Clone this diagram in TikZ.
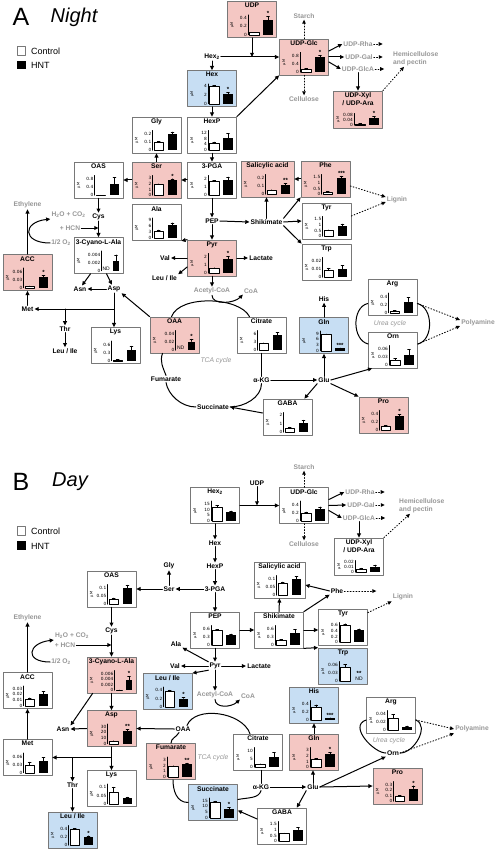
\documentclass[tikz,border=0pt]{standalone}
\usepackage{fontspec}
\setmainfont{Liberation Sans}
\newfontfamily\tickfam{DejaVu Sans}
\usetikzlibrary{arrows.meta}

\definecolor{pinkfill}{RGB}{244,199,195}
\definecolor{bluefill}{RGB}{199,222,243}
\definecolor{boxline}{RGB}{120,120,120}
\definecolor{greytxt}{RGB}{150,150,150}

\newcommand{\chartH}{20}
% box with its title
\newcommand{\metab}[5][]{%
  \node[metbox,#4,#1] (#2) at (#3) {};
  \node[boxtitle] (#2-t) at ([yshift=-1.5pt]#2.north) {#5};}
% small bar chart: [axis offset]{box}{max}{ticks}{ctrl}{err}{hnt}{err}{sig}
\newcommand{\bars}[9][29]{%
  \begin{scope}[shift={(#2.south east)}]
    \pgfmathsetmacro\barW{(#1-6)*0.42}
    \pgfmathsetmacro\barCl{-#1+1.5}
    \pgfmathsetmacro\barCr{\barCl+\barW}
    \pgfmathsetmacro\barCx{\barCl+0.5*\barW}
    \pgfmathsetmacro\barHl{-4-\barW}
    \pgfmathsetmacro\barHx{-4-0.5*\barW}
    \draw[axisline] (-#1,-3) -- (-#1,{-3-\chartH});
    \foreach \tk [count=\ti] in {#4} \node[tklab] (#2-k\ti) at ({-#1-0.5},{-3-\tk/#3*\chartH}) {\tk};
    \ifdim #5pt<0pt
      \node[ndlab] (#2-ndc) at (\barCx,-3) {ND};
    \else
      \pgfmathsetmacro\barCh{#5/#3*\chartH}
      \pgfmathsetmacro\barCe{(#5+#6)/#3*\chartH}
      \draw[ctrlbar] (\barCl,-3) rectangle (\barCr,{-3-\barCh});
      \draw[errbar] (\barCx,{-3-\barCh}) -- (\barCx,{-3-\barCe}) ({\barCx-1.5},{-3-\barCe}) -- ({\barCx+1.5},{-3-\barCe});
    \fi
    \ifdim #7pt<0pt
      \node[ndlab] (#2-ndh) at (\barHx,-3) {ND};
      \node[siglab] (#2-sig) at (\barHx,-8.5) {#9};
    \else
      \pgfmathsetmacro\barHh{#7/#3*\chartH}
      \pgfmathsetmacro\barHe{(#7+#8)/#3*\chartH}
      \fill[hntbar] (\barHl,-3) rectangle (-4,{-3-\barHh});
      \draw[errbar] (\barHx,{-3-\barHh}) -- (\barHx,{-3-\barHe}) ({\barHx-1.5},{-3-\barHe}) -- ({\barHx+1.5},{-3-\barHe});
      \node[siglab] (#2-sig) at (\barHx,{-3.3-\barHe}) {#9};
    \fi
  \end{scope}
  \path (#2.south west) ++(5,{-3-0.5*\chartH}) node[unitlab] (#2-u) {µM};}

\tikzset{
  metbox/.style={draw=boxline,line width=0.7pt,minimum width=49pt,minimum height=36pt,inner sep=0pt},
  pinkbox/.style={fill=pinkfill},
  bluebox/.style={fill=bluefill},
  whitebox/.style={fill=white},
  boxtitle/.style={font=\fontsize{6.7}{7.6}\selectfont\bfseries,anchor=north,inner sep=0.5pt,align=center},
  met/.style={font=\fontsize{6.7}{8}\selectfont\bfseries,inner sep=1pt},
  sidelab/.style={met,text=greytxt},
  cyc/.style={font=\fontsize{6.8}{8}\selectfont\itshape,text=greytxt,inner sep=1pt},
  tklab/.style={font=\tickfam\fontsize{4.3}{5}\selectfont,anchor=east,inner sep=0.4pt},
  unitlab/.style={font=\tickfam\fontsize{3.6}{4}\selectfont,rotate=90,inner sep=0pt},
  ndlab/.style={font=\fontsize{5}{6}\selectfont,anchor=south,inner sep=0.4pt},
  siglab/.style={font=\fontsize{6}{6}\selectfont\bfseries,anchor=south,inner sep=0.2pt},
  axisline/.style={line width=0.4pt},
  ctrlbar/.style={draw=black,fill=white,line width=0.5pt},
  hntbar/.style={fill=black},
  errbar/.style={line width=0.4pt},
  arr/.style={-{Triangle[length=4.2pt,width=3.8pt]},line width=1pt},
  dotarr/.style={-{Triangle[length=4pt,width=3.6pt]},line width=0.9pt,dotted},
  conn/.style={line width=1pt},
  keytxt/.style={anchor=west,font=\fontsize{9}{10}\selectfont,inner sep=0pt},
}

\begin{document}
\begin{tikzpicture}[line cap=round,line join=round,x=1pt,y=-1pt]
\useasboundingbox (0,0) rectangle (497,850);

%%% A: Night
\node[font=\fontsize{25}{30}\selectfont] (aLetter) at (21,17) {A};
\node[font=\fontsize{20}{24}\selectfont\itshape] (aTitle) at (74,17) {Night};
\node[draw=boxline,fill=white,minimum size=8.5pt,inner sep=0pt,line width=0.6pt] (aKeyC) at (21.5,51) {};
\node[keytxt] (aKeyCt) at (31,51.5) {Control};
\node[fill=black,minimum size=8.5pt,inner sep=0pt] (aKeyH) at (21.5,65) {};
\node[keytxt] (aKeyHt) at (31,65.5) {HNT};

\metab{aUDP}{252,19.5}{pinkbox}{UDP}
\bars{aUDP}{0.46}{0,0.2,0.4}{0.05}{0.01}{0.33}{0.09}{*}
\metab{aUDPGlc}{304,57}{pinkbox}{UDP-Glc}
\bars{aUDPGlc}{0.95}{0,0.4,0.8}{0.15}{0.03}{0.72}{0.08}{*}
\metab[minimum height=37pt]{aXyl}{358,109.5}{pinkbox}{UDP-Xyl\\/ UDP-Ara}
{\renewcommand{\chartH}{12}\bars{aXyl}{0.09}{0,0.04,0.08}{0.01}{0.003}{0.055}{0.01}{*}}
\metab{aHex}{212,88.5}{bluebox}{Hex}
\bars{aHex}{4.4}{0,2,4}{3.8}{0.2}{2.1}{0.4}{*}
\metab{aHexP}{212,135}{whitebox}{HexP}
\bars{aHexP}{13.5}{0,4,8,12}{5}{0.6}{8.5}{2.8}{}
\metab{aGly}{156.5,135}{whitebox}{Gly}
\bars{aGly}{0.25}{0,0.1,0.2}{0.1}{0.01}{0.2}{0.03}{}
\metab{aOAS}{98.5,180}{whitebox}{OAS}
\bars{aOAS}{0.95}{0,0.4,0.8}{0.01}{0}{0.55}{0.3}{}
\metab{aSer}{156.5,180}{pinkbox}{Ser}
\bars{aSer}{3.5}{0,1,2,3}{1.9}{0.1}{2.6}{0.3}{*}
\metab{aPGA}{212,180}{whitebox}{3-PGA}
\bars{aPGA}{2.4}{0,1,2}{1.7}{0.1}{1.8}{0.4}{}
\metab[minimum width=53pt]{aSal}{267.5,179}{pinkbox}{Salicylic acid}
\bars{aSal}{0.24}{0,0.1,0.2}{0.05}{0.005}{0.11}{0.02}{**}
\metab{aPhe}{325.5,179}{pinkbox}{Phe}
\bars{aPhe}{1.7}{0,0.5,1,1.5}{0.2}{0.03}{1.4}{0.15}{***}
\metab{aTyr}{326.5,221}{whitebox}{Tyr}
\bars{aTyr}{1.7}{0,0.5,1,1.5}{0.5}{0.05}{0.9}{0.15}{}
\metab{aTrp}{326.5,262}{whitebox}{Trp}
\bars{aTrp}{0.024}{0,0.01,0.02}{0.008}{0.003}{0.01}{0.004}{}
\metab{aAla}{156.5,222.5}{whitebox}{Ala}
\bars{aAla}{10}{0,3,6,9}{3.5}{0.4}{6.5}{1}{}
\metab{aPyr}{212,258}{pinkbox}{Pyr}
\bars{aPyr}{2.5}{0,1,2}{0.6}{0.1}{1.8}{0.3}{*}
\metab{aCyano}{98.5,255.5}{whitebox}{3-Cyano-L-Ala}
\bars[22]{aCyano}{0.005}{0,0.002,0.004}{-1}{0}{0.0025}{0.0015}{}
\metab{aACC}{27.5,272.5}{pinkbox}{ACC}
\bars{aACC}{0.075}{0,0.03,0.06}{0.005}{0.002}{0.04}{0.006}{*}
\metab{aLys}{115.5,345.5}{whitebox}{Lys}
\bars{aLys}{0.75}{0,0.3,0.6}{0.04}{0.01}{0.4}{0.15}{}
\metab{aOAA}{174.5,335}{pinkbox}{OAA}
\bars[24]{aOAA}{0.05}{0,0.02,0.04}{-1}{0}{0.022}{0.006}{*}
\metab{aCit}{261.5,335}{whitebox}{Citrate}
\bars{aCit}{7.5}{0,3,6}{2.5}{0.3}{5.8}{1}{}
\metab{aGln}{324,335.5}{bluebox}{Gln}
\bars{aGln}{10.5}{0,3,6,9}{8.5}{0.3}{1.3}{0.2}{***}
\metab{aArg}{392.5,297.5}{whitebox}{Arg}
\bars{aArg}{0.5}{0,0.2,0.4}{0.05}{0.01}{0.28}{0.1}{}
\metab{aOrn}{393,350}{whitebox}{Orn}
\bars{aOrn}{0.075}{0,0.03,0.06}{0.02}{0.006}{0.04}{0.02}{}
\metab{aGABA}{287.5,417}{whitebox}{GABA}
\bars{aGABA}{2.3}{0,1,2}{0.5}{0.1}{1.1}{0.3}{}
\metab{aPro}{383.5,415}{pinkbox}{Pro}
\bars{aPro}{0.5}{0,0.2,0.4}{0.1}{0.02}{0.35}{0.05}{*}

\node[met] (aHex2) at (212,57) {Hex\textsubscript{2}};
\node[sidelab] (aStarch) at (304,16) {Starch};
\node[sidelab] (aCellulose) at (304,99) {Cellulose};
\node[sidelab] (aRha) at (358,44) {UDP-Rha};
\node[sidelab] (aGal) at (359,57) {UDP-Gal};
\node[sidelab] (aGlcA) at (358,69) {UDP-GlcA};
\node[sidelab,align=left,anchor=west] (aHemi) at (392,58.5) {Hemicellulose\\and pectin};
\node[sidelab] (aLignin) at (397,200) {Lignin};
\node[met] (aPEP) at (212,221) {PEP};
\node[met] (aShik) at (266.5,222) {Shikimate};
\node[met] (aVal) at (165,258) {Val};
\node[met] (aLeuA) at (164.5,278) {Leu / Ile};
\node[met] (aLact) at (261,258) {Lactate};
\node[sidelab] (aAcCoA) at (212,291) {Acetyl-CoA};
\node[sidelab] (aCoA) at (251,291) {CoA};
\node[sidelab] (aEthylene) at (27.5,205) {Ethylene};
\node[sidelab] (aH2O) at (68.5,215) {H\textsubscript{2}O + CO\textsubscript{2}};
\node[met] (aCys) at (98.5,217) {Cys};
\node[sidelab] (aHCN) at (70,228) {+ HCN};
\node[sidelab] (aO2) at (61,243) {1/2 O\textsubscript{2}};
\node[met] (aAsn) at (80,289) {Asn};
\node[met] (aAsp) at (114,289) {Asp};
\node[met] (aMet) at (27.5,309) {Met};
\node[met] (aThr) at (65,329) {Thr};
\node[met] (aLeuB) at (65,351) {Leu / Ile};
\node[cyc] (aTCA) at (216,361) {TCA cycle};
\node[met] (aFum) at (166,379) {Fumarate};
\node[met] (aSuc) at (213,407) {Succinate};
\node[met] (aAKG) at (261.5,380) {α-KG};
\node[met] (aGlu) at (324,380) {Glu};
\node[met] (aHis) at (324,299) {His};
\node[cyc] (aUrea) at (390,324) {Urea cycle};
\node[sidelab] (aPoly) at (478,323) {Polyamine};

% sugars
\draw[arr] (aHex2.south) -- (aHex.north);
\draw[arr] (aHex2.east) -- (aUDPGlc.west);
\draw[arr] (aUDP.south) -- (aUDP.south |- aHex2.east);
\draw[arr] (aHexP.north east) -- (aUDPGlc.south west);
\draw[dotarr] (aUDPGlc.north) -- (aStarch.south);
\draw[dotarr] (aUDPGlc.south) -- (aCellulose.north);
\draw[arr] ([yshift=6pt]aUDPGlc.east) -- (aRha.west);
\draw[arr] (aUDPGlc.east) -- (aGal.west);
\draw[arr] ([yshift=-5pt]aUDPGlc.east) -- (aGlcA.west);
\foreach \nd in {aRha,aGal,aGlcA} \draw[dotarr] (\nd.east) -- ++(9,0);
\draw[arr] (aGlcA.south) -- (aXyl.north);
\draw[dotarr] (aXyl.north east) -- ([xshift=12pt]aHemi.south west);
\draw[arr] (aHex.south) -- (aHexP.north);
\draw[arr] (aHexP.south) -- (aPGA.north);
\draw[arr] (aPGA.west) -- (aSer.east);
\draw[arr] (aSer.north) -- (aGly.south);
\draw[arr] (aSer.west) -- (aOAS.east);
\draw[arr] (aOAS.south) -- (aCys.north);
\draw[arr] (aPGA.south) -- (aPEP.north);
\draw[arr] (aPEP.east) -- (aShik.west);
\draw[arr] (aShik.north) -- (aShik.north |- aSal.south);
\draw[arr] (aShik.north east) -- (aPhe.south west);
\draw[arr] (aPhe.west) -- (aSal.east);
\draw[arr] (aShik.east) -- (aTyr.west);
\draw[arr] (aShik.south east) -- (aTrp.north west);
\draw[dotarr] ([yshift=-7pt]aPhe.east) -- ([yshift=3pt]aLignin.west);
\draw[dotarr] ([yshift=5pt]aTyr.east) -- ([yshift=-2pt]aLignin.west);
% pyruvate
\draw[arr] (aPEP.south) -- (aPyr.north);
\draw[arr] (aPyr.north west) -- (aAla.south east);
\draw[arr] (aPyr.west) -- (aVal.east);
\draw[arr] ([yshift=-9pt]aPyr.west) -- (aLeuA.north east);
\draw[arr] (aPyr.east) -- (aLact.west);
\draw[arr] (aPyr.south) -- (aAcCoA.north);
\draw[arr] (aAcCoA.south) .. controls +(0,10) and +(-9,9) .. (aCoA.south west);
% cysteine, aspartate
\draw[arr] (aHCN.east) -- (aHCN.east -| aCys.south);
\draw[arr] (aCys.south) -- (aCyano.north);
\draw[arr] (aO2.west) .. controls +(-28,0) and +(-28,3) .. (aH2O.south west);
\draw[arr] (aACC.north) -- (aEthylene.south);
\draw[arr] (aMet.north) -- (aACC.south);
\draw[arr] ([xshift=-8pt]aCyano.south) -- ([xshift=2pt]aAsn.north);
\draw[arr] ([xshift=8pt]aCyano.south) -- ([xshift=-2pt]aAsp.north);
\draw[arr] (aAsp.west) -- (aAsn.east);
\draw[arr] (aAsp.south) -- (aAsp.south |- aLys.north);
\draw[arr] (aAsp.south |- aMet.east) -- (aMet.east);
\draw[arr] (aThr |- aMet.east) -- (aThr.north);
\draw[arr] (aThr.south) -- (aLeuB.north);
\draw[arr] (aOAA.north west) -- (aAsp.south east);
% TCA
\draw[conn] ([xshift=-3pt]aOAA.north) .. controls +(8,-22) and +(-10,-20) .. ([xshift=-12pt]aCit.north);
\draw[conn] (aCit.south) -- (aAKG.north);
\draw[conn] (aAKG.south) .. controls +(0,14) and +(14,0) .. (aSuc.east);
\draw[conn] (aSuc.west) .. controls +(-15,0) and +(2,12) .. (aFum.south);
\draw[conn] (aFum.north) .. controls +(-3,-8) and +(-3,8) .. ([xshift=-12pt]aOAA.south);
\draw[arr] ([yshift=4pt]aGABA.west) -- (aSuc.east);
\draw[arr] (aAKG.east) -- (aGlu.west);
\draw[arr] (aGlu.north) -- (aGln.south);
\draw[arr] (aGln.north) -- (aHis.south);
\draw[arr] (aGlu.south west) -- ([xshift=-8pt]aGABA.north east);
\draw[arr] (aGlu.south east) -- (aPro.north west);
\draw[arr] (aGlu.east) -- ([xshift=4pt]aOrn.south west);
% urea
\draw[conn] ([yshift=-6pt]aArg.west) .. controls +(-16,4) and +(-16,-4) .. ([yshift=6pt]aOrn.west);
\draw[conn] ([yshift=6pt]aOrn.east) .. controls +(16,-4) and +(16,4) .. ([yshift=-6pt]aArg.east);
\draw[dotarr] ([yshift=-6pt]aArg.east) -- ([yshift=3pt]aPoly.west);
\draw[dotarr] ([yshift=6pt]aOrn.east) -- ([yshift=-3pt]aPoly.west);

%%% B: Day
\node[font=\fontsize{25}{30}\selectfont] (bLetter) at (21,482) {B};
\node[font=\fontsize{20}{24}\selectfont\itshape] (bTitle) at (70,482) {Day};
\node[draw=boxline,fill=white,minimum size=8.5pt,inner sep=0pt,line width=0.6pt] (bKeyC) at (21.5,531) {};
\node[keytxt] (bKeyCt) at (31,531.5) {Control};
\node[fill=black,minimum size=8.5pt,inner sep=0pt] (bKeyH) at (21.5,545.5) {};
\node[keytxt] (bKeyHt) at (31,546) {HNT};

\metab{bHex2}{215,505.5}{whitebox}{Hex\textsubscript{2}}
\bars{bHex2}{18}{0,5,10,15}{12.4}{1.5}{8.4}{0.4}{}
\metab{bUDPGlc}{304,505.5}{whitebox}{UDP-Glc}
\bars{bUDPGlc}{0.5}{0,0.2,0.4}{0.2}{0.02}{0.3}{0.05}{}
\metab[minimum height=37pt]{bXyl}{359,556.5}{whitebox}{UDP-Xyl\\/ UDP-Ara}
{\renewcommand{\chartH}{12}\bars{bXyl}{0.023}{0,0.01,0.02}{0.005}{0.003}{0.011}{0.003}{}}
\metab{bOAS}{111.5,589}{whitebox}{OAS}
\bars{bOAS}{0.12}{0,0.05,0.1}{0.028}{0.01}{0.1}{0.015}{}
\metab[minimum width=51pt]{bSal}{279.5,580}{whitebox}{Salicylic acid}
\bars{bSal}{0.12}{0,0.05,0.1}{0.075}{0.005}{0.1}{0.012}{}
\metab{bPEP}{215,630}{whitebox}{PEP}
\bars{bPEP}{0.72}{0,0.3,0.6}{0.53}{0.04}{0.37}{0.04}{}
\metab{bShik}{279,630}{whitebox}{Shikimate}
\bars{bShik}{0.72}{0,0.3,0.6}{0.2}{0.02}{0.45}{0.13}{}
\metab{bTyr}{343,627}{whitebox}{Tyr}
\bars{bTyr}{0.7}{0,0.2,0.4,0.6}{0.6}{0.05}{0.42}{0.05}{}
\metab{bTrp}{343,666}{bluebox}{Trp}
\bars{bTrp}{0.072}{0,0.03,0.06}{0.05}{0.01}{-1}{0}{**}
\metab{bLeuA}{167.5,691.5}{bluebox}{Leu / Ile}
\bars{bLeuA}{0.48}{0,0.2,0.4}{0.38}{0.02}{0.2}{0.03}{*}
\metab{bCyano}{111.5,675}{pinkbox}{3-Cyano-L-Ala}
\bars[22]{bCyano}{0.0072}{0,0.002,0.004,0.006}{0.0002}{0}{0.0038}{0.0012}{*}
\metab{bACC}{27.5,690.5}{whitebox}{ACC}
\bars{bACC}{0.035}{0,0.01,0.02,0.03}{0.011}{0.003}{0.02}{0.005}{}
\metab{bAsp}{111.5,728.5}{pinkbox}{Asp}
\bars{bAsp}{35}{0,10,20,30}{5}{0.5}{22}{3}{**}
\metab{bMet}{27.5,757.5}{whitebox}{Met}
\bars{bMet}{0.075}{0,0.03,0.06}{0.03}{0.01}{0.045}{0.012}{}
\metab{bLys}{111.5,788.5}{whitebox}{Lys}
\bars{bLys}{0.12}{0,0.05,0.1}{0.07}{0.03}{0.035}{0.005}{}
\metab{bLeuB}{72.5,830}{bluebox}{Leu / Ile}
\bars{bLeuB}{0.48}{0,0.2,0.4}{0.38}{0.02}{0.2}{0.03}{*}
\metab{bFum}{171,761.5}{pinkbox}{Fumarate}
\bars{bFum}{3.5}{0,1,2,3}{1.9}{0.05}{2.3}{0.1}{**}
\metab{bSuc}{213,802.5}{bluebox}{Succinate}
\bars{bSuc}{17.5}{0,5,10,15}{14}{0.6}{8}{1}{*}
\metab{bCit}{258,752}{whitebox}{Citrate}
\bars{bCit}{12}{0,5,10}{1.6}{0.5}{6}{3}{}
\metab{bHis}{314,705}{bluebox}{His}
\bars{bHis}{0.48}{0,0.2,0.4}{0.32}{0.05}{0.05}{0.01}{***}
\metab{bGln}{314,752}{pinkbox}{Gln}
\bars{bGln}{3.5}{0,1,2,3}{1.5}{0.05}{2.3}{0.3}{*}
\metab{bArg}{391,715}{whitebox}{Arg}
\bars{bArg}{0.05}{0,0.02,0.04}{0.03}{0.01}{0.008}{0.003}{}
\metab{bPro}{397.5,786}{pinkbox}{Pro}
\bars{bPro}{0.36}{0,0.1,0.2,0.3}{0.1}{0.01}{0.23}{0.05}{*}
\metab{bGABA}{282,826}{whitebox}{GABA}
\bars{bGABA}{1.7}{0,0.5,1,1.5}{0.65}{0.05}{1}{0.2}{}

\node[met] (bUDP) at (257,483) {UDP};
\node[sidelab] (bStarch) at (304,467) {Starch};
\node[sidelab] (bCellulose) at (304,544) {Cellulose};
\node[sidelab] (bRha) at (360,492) {UDP-Rha};
\node[sidelab] (bGal) at (361,505) {UDP-Gal};
\node[sidelab] (bGlcA) at (359,518) {UDP-GlcA};
\node[sidelab,align=left,anchor=west] (bHemi) at (398,505.5) {Hemicellulose\\and pectin};
\node[met] (bHex) at (215,543) {Hex};
\node[met] (bHexP) at (215,566) {HexP};
\node[met] (bPGA) at (215,589) {3-PGA};
\node[met] (bSer) at (169,589) {Ser};
\node[met] (bGly) at (169,566) {Gly};
\node[met] (bPhe) at (337,591) {Phe};
\node[sidelab] (bLignin) at (403,597) {Lignin};
\node[met] (bAla) at (176,644) {Ala};
\node[met] (bVal) at (175,666) {Val};
\node[met] (bPyr) at (215,666) {Pyr};
\node[met] (bLact) at (259,666) {Lactate};
\node[sidelab] (bAcCoA) at (215,695) {Acetyl-CoA};
\node[sidelab] (bCoA) at (248,696) {CoA};
\node[sidelab] (bEthylene) at (27.5,618) {Ethylene};
\node[met] (bCys) at (111.5,631) {Cys};
\node[sidelab] (bH2O) at (72,636) {H\textsubscript{2}O + CO\textsubscript{2}};
\node[sidelab] (bHCN) at (65,645) {+ HCN};
\node[sidelab] (bO2) at (61,662) {1/2 O\textsubscript{2}};
\node[met] (bAsn) at (63,729) {Asn};
\node[met] (bThr) at (72.5,785) {Thr};
\node[met] (bOAA) at (183,729) {OAA};
\node[cyc] (bTCA) at (213,758) {TCA cycle};
\node[met] (bAKG) at (261,787) {α-KG};
\node[met] (bGlu) at (313,787) {Glu};
\node[cyc] (bUrea) at (389,741) {Urea cycle};
\node[met] (bOrn) at (393,753) {Orn};
\node[sidelab] (bPoly) at (472,729) {Polyamine};

% sugars
\draw[arr] (bHex2.south) -- (bHex.north);
\draw[arr] (bHex2.east) -- (bUDPGlc.west);
\draw[arr] (bUDP.south) -- (bUDP.south |- bHex2.east);
\draw[dotarr] (bUDPGlc.north) -- (bStarch.south);
\draw[dotarr] (bUDPGlc.south) -- (bCellulose.north);
\draw[arr] ([yshift=6pt]bUDPGlc.east) -- (bRha.west);
\draw[arr] (bUDPGlc.east) -- (bGal.west);
\draw[arr] ([yshift=-5pt]bUDPGlc.east) -- (bGlcA.west);
\foreach \nd in {bRha,bGal,bGlcA} \draw[dotarr] (\nd.east) -- ++(9,0);
\draw[arr] (bGlcA.south) -- (bXyl.north);
\draw[dotarr] (bXyl.north east) -- ([xshift=12pt]bHemi.south west);
\draw[arr] (bHex.south) -- (bHexP.north);
\draw[arr] (bHexP.south) -- (bPGA.north);
\draw[arr] (bPGA.west) -- (bSer.east);
\draw[arr] (bSer.north) -- (bGly.south);
\draw[arr] (bSer.west) -- (bOAS.east);
\draw[arr] (bOAS.south) -- (bCys.north);
\draw[arr] (bPGA.south) -- (bPEP.north);
\draw[arr] (bPEP.east) -- (bShik.west);
\draw[arr] (bShik.north) -- (bSal.south);
\draw[arr] (bShik.north east) -- (bPhe.south west);
\draw[arr] (bPhe.west) -- ([yshift=-5pt]bSal.east);
\draw[dotarr] (bPhe.east) -- ++(32,0);
\draw[dotarr] ([yshift=-4pt]bTyr.north east) -- (bLignin.south west);
\draw[arr] (bShik.east) -- (bShik.east -| bTyr.west);
\draw[arr] (bShik.south east) -- (bTrp.north west);
% pyruvate
\draw[arr] (bPEP.south) -- (bPyr.north);
\draw[arr] (bPyr.north west) -- (bAla.south east);
\draw[arr] (bPyr.west) -- (bVal.east);
\draw[arr] (bPyr.south west) -- (bLeuA.north east);
\draw[arr] (bPyr.east) -- (bLact.west);
\draw[arr] (bPyr.south) -- (bAcCoA.north);
\draw[arr] (bAcCoA.south) .. controls +(0,9) and +(-9,8) .. (bCoA.south west);
% cysteine, aspartate
\draw[arr] (bHCN.east) -- (bHCN.east -| bCys.south);
\draw[arr] (bCys.south) -- (bCyano.north);
\draw[arr] (bO2.west) .. controls +(-26,0) and +(-26,3) .. (bH2O.south west);
\draw[arr] (bACC.north) -- (bEthylene.south);
\draw[arr] (bMet.north) -- (bACC.south);
\draw[arr] (bCyano.south) -- (bAsp.north);
\draw[arr] ([xshift=6pt]bCyano.south west) -- (bAsn.north east);
\draw[arr] (bAsp.west) -- (bAsn.east);
\draw[arr] (bOAA.west) -- (bAsp.east);
\draw[arr] (bAsp.south) -- (bLys.north);
\draw[arr] (bAsp.south |- bMet.east) -- (bMet.east);
\draw[arr] (bThr |- bMet.east) -- (bThr.north);
\draw[arr] (bThr.south) -- (bThr.south |- bLeuB.north);
% TCA
\draw[conn] ([xshift=4pt]bOAA.north) .. controls +(8,-20) and +(-8,-22) .. ([xshift=-8pt]bCit.north);
\draw[conn] ([xshift=3pt]bCit.south) -- (bAKG.north);
\draw[conn] (bAKG.south) .. controls +(-2,8) and +(10,-2) .. ([yshift=3pt]bSuc.east);
\draw[conn] (bSuc.west) .. controls +(-12,0) and +(0,10) .. ([xshift=2pt]bFum.south);
\draw[conn] (bFum.north) .. controls +(0,-5) and +(-3,5) .. ([xshift=-4pt]bOAA.south);
\draw[arr] ([yshift=7pt]bGABA.west) -- ([yshift=-8pt]bSuc.east);
\draw[arr] (bAKG.east) -- (bGlu.west);
\draw[arr] (bGlu.north) -- (bGlu.north |- bGln.south);
\draw[arr] (bGln.north) -- (bHis.south);
\draw[arr] (bGlu.south west) -- ([xshift=-10pt]bGABA.north east);
\draw[arr] (bGlu.east) -- (bPro.west);
\draw[arr] (bGlu.east) -- (bOrn.south west);
% urea
\draw[conn] ([yshift=-5pt]bArg.west) .. controls +(-18,6) and +(-12,0) .. (bOrn.west);
\draw[conn] (bOrn.east) .. controls +(14,0) and +(14,6) .. ([yshift=-5pt]bArg.east);
\draw[dotarr] ([yshift=-5pt]bArg.east) -- (bPoly.west);
\draw[dotarr] (bOrn.east) -- (bPoly.south west);
\end{tikzpicture}
\end{document}
